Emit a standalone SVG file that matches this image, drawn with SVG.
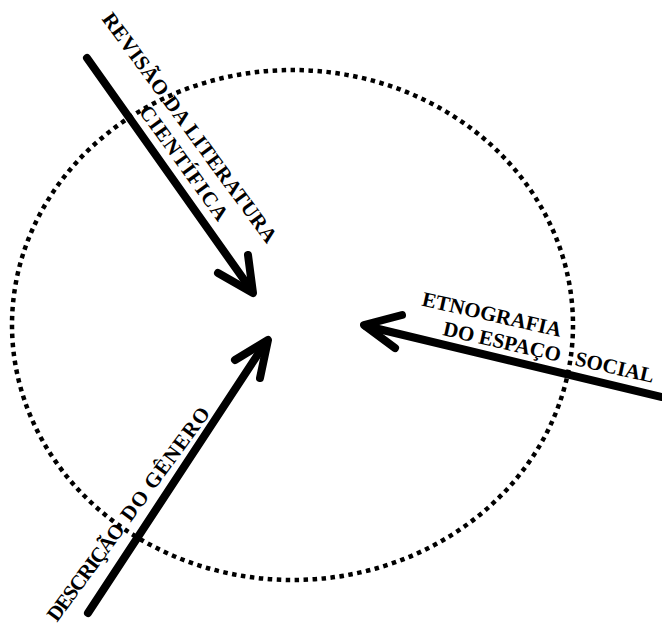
<svg xmlns="http://www.w3.org/2000/svg" width="662" height="633" viewBox="0 0 662 633">
<style>
.bg{fill:#ffffff}
.ring{fill:none;stroke:#000;stroke-width:4.5;stroke-dasharray:4.5 4.5}
.arrow{fill:none;stroke:#000;stroke-width:8;stroke-linecap:round;stroke-linejoin:round}
.lbl{font-family:"Liberation Serif","Times New Roman",serif;font-size:21px;font-weight:bold;fill:#000}
</style>
<rect class="bg" x="0" y="0" width="662" height="633"/>
<g id="ring"><ellipse class="ring" cx="292.5" cy="325" rx="280.5" ry="255"/></g>
<g id="connectors">
<path class="arrow" d="M87 58 L252 291"/>
<path class="arrow" d="M218 273 L253 293 L248 255"/>
<path class="arrow" d="M662 397 L366 326"/>
<path class="arrow" d="M402 315 L364 325 L395 348"/>
<path class="arrow" d="M88 613 L266 342"/>
<path class="arrow" d="M235 360 L268 340 L260 378"/>
</g>
<g id="label-revisao">
<text class="lbl" transform="translate(101.3 19) rotate(53.7)" style="letter-spacing:0.3px">REVISÃO DA LITERATURA</text>
<text class="lbl" transform="translate(138.2 111.4) rotate(54.2)" style="letter-spacing:1.2px">CIENTÍFICA</text>
</g>
<g id="label-etnografia">
<text class="lbl" transform="translate(420.9 305.4) rotate(12.8)">ETNOGRAFIA</text>
<text class="lbl" transform="translate(441.9 335.1) rotate(12.8)"><tspan x="0">DO ESPAÇO</tspan><tspan x="135.4">SOCIAL</tspan></text>
</g>
<g id="label-descricao">
<text class="lbl" transform="translate(57.1 622.8) rotate(-53.7)"><tspan style="letter-spacing:-1.3px">DESCRIÇÃO</tspan><tspan dx="3.5" style="letter-spacing:1px"> DO GÊNERO</tspan></text>
</g>
</svg>
